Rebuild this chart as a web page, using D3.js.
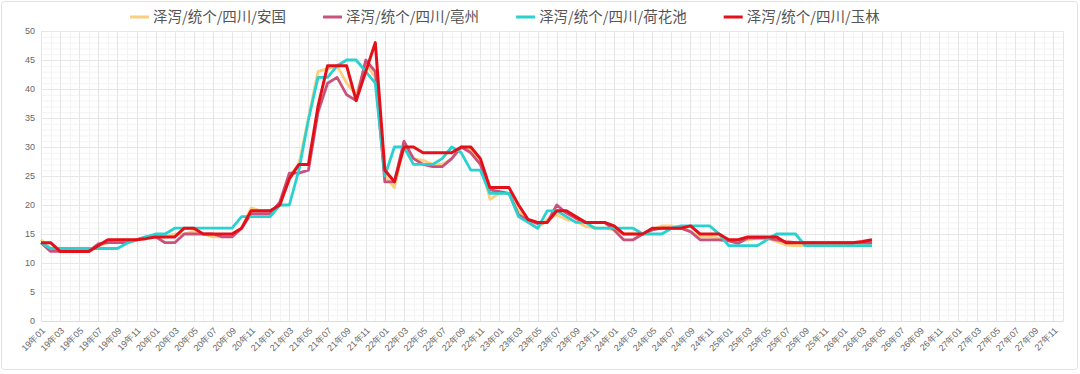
<!DOCTYPE html>
<html>
<head>
<meta charset="utf-8">
<script src="https://cdn.jsdelivr.net/npm/d3@7"></script>
<style>
  body { margin: 0; background: #fff; }
  svg { font-family: "Noto Sans CJK SC", "Noto Sans", sans-serif; }
</style>
</head>
<body>
<div id="container"></div>
<script>
// x categories: 19年01 .. 27年12
var years = ["19", "20", "21", "22", "23", "24", "25", "26", "27"];
var months = ["01", "02", "03", "04", "05", "06", "07", "08", "09", "10", "11", "12"];
var yTicks = [0, 5, 10, 15, 20, 25, 30, 35, 40, 45, 50];
var seriesNames = ["泽泻/统个/四川/安国", "泽泻/统个/四川/亳州", "泽泻/统个/四川/荷花池", "泽泻/统个/四川/玉林"];

var anguo = [14, 12.5, 12, 12, 12, 12, 13, 13.5, 14, 14, 14, 14.5, 14.5, 14.5, 15, 15, 15.5, 15, 14.5, 14.5,
  15, 16, 19.5, 19, 19, 20, 25, 27, 35, 43, 43.5, 44, 41, 39, 44.4, 42, 25, 23, 30.5, 28,
  27.7, 27, 27, 28, 30, 29.5, 27.5, 21, 22, 22, 19, 17, 16, 17.5, 18.3, 17.5, 17.2, 16.3, 16, 16,
  15.7, 15, 15, 15, 15.7, 16.4, 16.4, 16, 15.4, 14.5, 14.5, 14.3, 14, 13.8, 14, 14.3, 14.3, 13.7, 13.1, 13,
  13, 13, 13, 13, 13, 13, 13, 13];
var bozhou = [13.5, 12, 12, 12, 12, 12, 13.3, 13.5, 13.5, 13.5, 14, 14.5, 14.5, 13.5, 13.5, 15, 15, 15, 15, 14.5,
  14.5, 16, 18.5, 18.5, 18.5, 20.5, 25.5, 25.5, 26, 36, 41, 42, 39, 38, 45, 43, 24, 24, 31, 28,
  27, 26.6, 26.6, 28, 30, 29, 27, 22.6, 22.3, 22, 18.3, 17.4, 16.8, 17, 20, 18.6, 17.7, 17, 17, 17,
  15.7, 14, 14, 15, 15.7, 16, 16, 16, 15.4, 14, 14, 14, 13.8, 13.4, 14.3, 14.3, 14.3, 14, 13.7, 13.5,
  13.5, 13.5, 13.5, 13.5, 13.5, 13.5, 13.5, 13.5];
var hehuachi = [13.5, 12.5, 12.5, 12.5, 12.5, 12.5, 12.5, 12.5, 12.5, 13.4, 14, 14.5, 15, 15, 16, 16, 16, 16, 16, 16,
  16, 18, 18, 18, 18, 20, 20, 26, 34.7, 42, 42, 44, 45, 45, 43, 41, 25, 30, 30, 27,
  27, 27, 28, 30, 29, 26, 26, 22, 22, 22, 18, 17, 16, 19, 19, 18, 17, 17, 16, 16,
  16, 16, 16, 15, 15, 15, 16, 16.4, 16.4, 16.4, 16.4, 15, 13, 13, 13, 13, 14, 15, 15, 15,
  13, 13, 13, 13, 13, 13, 13, 13];
var yulin = [13.5, 13.5, 12, 12, 12, 12, 13, 14, 14, 14, 14, 14.2, 14.5, 14.5, 14.5, 16, 16, 15, 15, 15,
  15, 16, 19, 19, 19, 20, 24.5, 27, 27, 37, 44, 44, 44, 38, 43, 48, 26, 24, 30, 30,
  29, 29, 29, 29, 30, 30, 28, 23, 23, 23, 20, 17.5, 17, 17, 19, 19, 18, 17, 17, 17,
  16.4, 15, 15, 15, 16, 16, 16, 16, 16.4, 15, 15, 15, 14, 14, 14.5, 14.5, 14.5, 14.5, 13.5, 13.5,
  13.5, 13.5, 13.5, 13.5, 13.5, 13.5, 13.7, 14];

var colors = ["#fbcf80", "#c9527c", "#2bd0d0", "#e3101a"];

var categories = [];
years.forEach(function (y) {
    months.forEach(function (m) { categories.push(y + "年" + m); });
});
var xLabels = categories.filter(function (d, i) { return i % 2 === 0; });

var width = 1080, height = 374;
var margin = { top: 31, right: 17, bottom: 53, left: 41 };

var svg = d3.select('#container').append('svg').attr('width', width).attr('height', height);

// card frame
svg.append('rect').attr('x', 1.5).attr('y', 1.5).attr('width', width - 4).attr('height', height - 6)
    .attr('rx', 3).attr('fill', '#fff').attr('stroke', '#e2e2e2');

var x = d3.scalePoint().domain(categories).range([margin.left, width - margin.right]);
var y = d3.scaleLinear().domain([0, 50]).range([height - margin.bottom, margin.top]);

var grid = svg.append('g').attr('class', 'grid');
// minor horizontal lines
grid.selectAll('.hmin').data(d3.range(0, 51, 1)).enter().append('line')
    .attr('x1', margin.left).attr('x2', width - margin.right)
    .attr('y1', function (d) { return y(d) + 0.5; }).attr('y2', function (d) { return y(d) + 0.5; })
    .attr('stroke', '#f3f3f3');
// minor vertical lines
grid.selectAll('.vmin').data(categories).enter().append('line')
    .attr('x1', function (d) { return Math.round(x(d)) + 0.5; }).attr('x2', function (d) { return Math.round(x(d)) + 0.5; })
    .attr('y1', y(50)).attr('y2', y(0))
    .attr('stroke', '#f3f3f3');
// major lines
grid.selectAll('.hmaj').data(yTicks).enter().append('line')
    .attr('x1', margin.left).attr('x2', width - margin.right)
    .attr('y1', function (d) { return Math.round(y(d)) + 0.5; }).attr('y2', function (d) { return Math.round(y(d)) + 0.5; })
    .attr('stroke', '#e6e6e6');
grid.selectAll('.vmaj').data(xLabels.concat([categories[categories.length - 1]])).enter().append('line')
    .attr('x1', function (d) { return Math.round(x(d)) + 0.5; }).attr('x2', function (d) { return Math.round(x(d)) + 0.5; })
    .attr('y1', y(50)).attr('y2', y(0))
    .attr('stroke', '#e6e6e6');

// axes
var yAxis = d3.axisLeft(y).tickValues(yTicks).tickSize(0).tickPadding(6);
var gy = svg.append('g').attr('transform', 'translate(' + margin.left + ',0)').call(yAxis);
gy.select('.domain').remove();
gy.selectAll('text').attr('fill', '#666').style('font-size', '9px');

var xAxis = d3.axisBottom(x).tickValues(xLabels).tickSize(0).tickPadding(0);
var gx = svg.append('g').attr('transform', 'translate(0,' + y(0) + ')').call(xAxis);
gx.select('.domain').attr('stroke', '#dcdcdc');
gx.selectAll('text').attr('fill', '#666').style('font-size', '9px')
    .attr('text-anchor', 'end').attr('dy', '0.35em')
    .attr('transform', 'translate(2,8) rotate(-45)');

// lines
var allSeries = [anguo, bozhou, hehuachi, yulin];
var line = d3.line()
    .x(function (d, i) { return x(categories[i]); })
    .y(function (d) { return y(d); });
svg.selectAll('.series').data(allSeries).enter().append('path')
    .attr('fill', 'none')
    .attr('stroke', function (d, i) { return colors[i]; })
    .attr('stroke-width', function (d, i) { return i === 3 ? 3 : 2.8; })
    .attr('stroke-linejoin', 'round')
    .attr('d', line);

// legend
var legend = svg.append('g');
var lx = 130;
seriesNames.forEach(function (name, i) {
    var g = legend.append('g').attr('transform', 'translate(' + lx + ',17)');
    g.append('line').attr('x1', 0).attr('x2', 19).attr('y1', 0).attr('y2', 0)
        .attr('stroke', colors[i]).attr('stroke-width', 3);
    var t = g.append('text').attr('x', 23).attr('dy', '0.35em')
        .attr('fill', '#555').style('font-size', '14.5px').text(name);
    lx += 23 + t.node().getComputedTextLength() + 37;
});
</script>
</body>
</html>
